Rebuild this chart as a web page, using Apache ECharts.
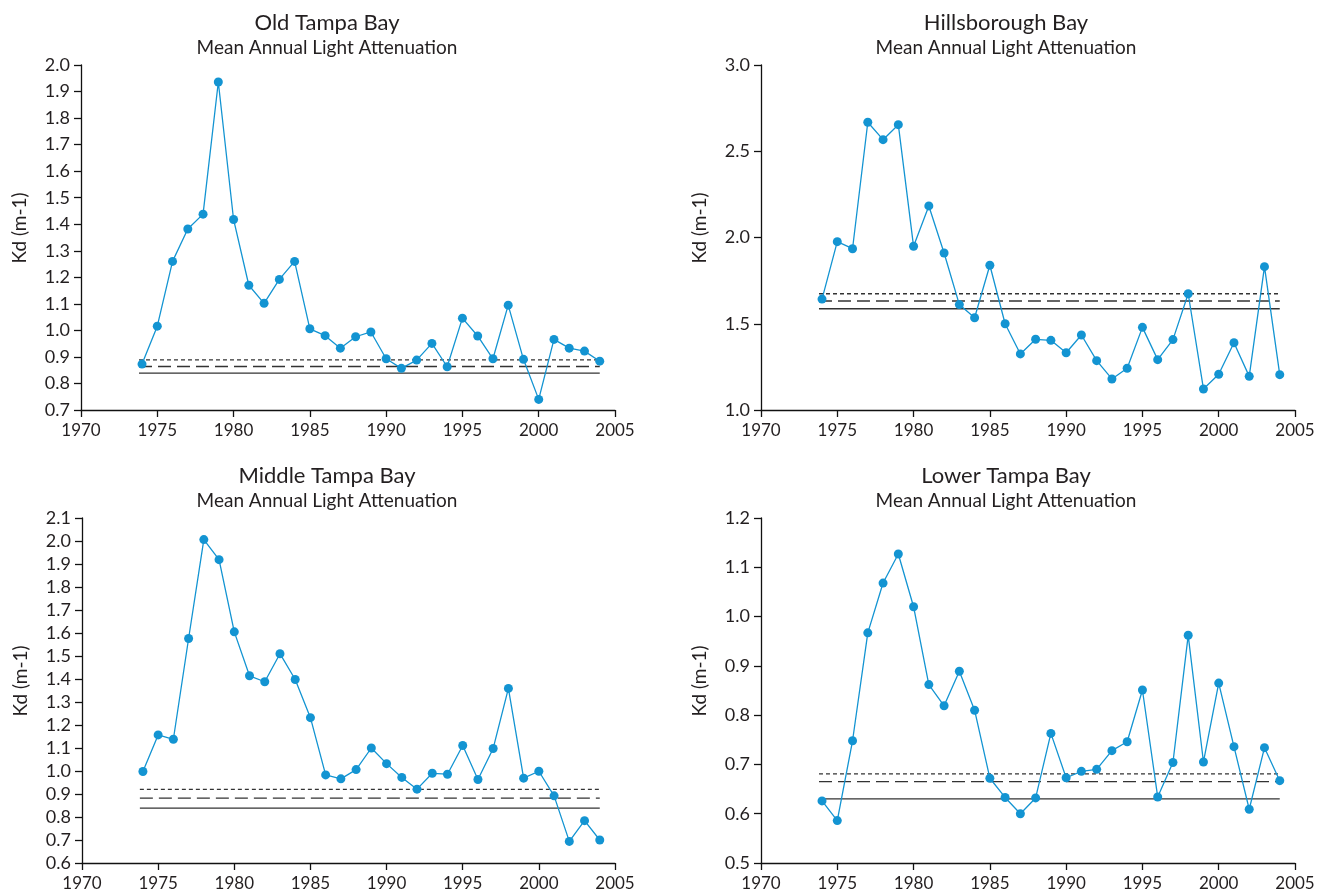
<!DOCTYPE html>
<html>
<head>
<meta charset="utf-8">
<script src="https://cdn.jsdelivr.net/npm/echarts@6/dist/echarts.min.js"></script>
<style>
html,body{margin:0;padding:0;background:#fff;}
#chart{width:1318px;height:894px;}
</style>
</head>
<body>
<div id="chart"></div>
<script>
// ---- data ----
const years = [1974,1975,1976,1977,1978,1979,1980,1981,1982,1983,1984,1985,1986,1987,1988,1989,1990,1991,1992,1993,1994,1995,1996,1997,1998,1999,2000,2001,2002,2003,2004];

const oldTampa = [0.873,1.016,1.260,1.382,1.438,1.936,1.418,1.170,1.102,1.192,1.260,1.006,0.980,0.933,0.976,0.994,0.893,0.857,0.888,0.951,0.863,1.046,0.979,0.893,1.095,0.891,0.740,0.966,0.933,0.922,0.884];
const hillsborough = [1.643,1.976,1.935,2.668,2.567,2.654,1.949,2.183,1.910,1.611,1.535,1.839,1.500,1.325,1.410,1.404,1.332,1.435,1.286,1.180,1.242,1.479,1.292,1.408,1.674,1.122,1.207,1.390,1.195,1.831,1.205];
const middleTampa = [0.998,1.157,1.138,1.576,2.006,1.919,1.605,1.414,1.388,1.510,1.398,1.232,0.983,0.966,1.006,1.100,1.032,0.972,0.921,0.990,0.986,1.111,0.963,1.098,1.359,0.969,0.999,0.892,0.694,0.784,0.700];
const lowerTampa = [0.626,0.586,0.748,0.967,1.068,1.127,1.020,0.862,0.819,0.889,0.810,0.672,0.633,0.600,0.632,0.763,0.673,0.686,0.690,0.728,0.746,0.851,0.634,0.704,0.962,0.705,0.865,0.736,0.609,0.734,0.667];

// reference levels: [short dash, long dash, solid]
const refOld = [0.889, 0.864, 0.839];
const refHills = [1.674, 1.632, 1.587];
const refMiddle = [0.920, 0.882, 0.839];
const refLower = [0.681, 0.665, 0.630];
const refSpan = [1973.8, 2004];

const titles = ["Old Tampa Bay", "Hillsborough Bay", "Middle Tampa Bay", "Lower Tampa Bay"];
const subtitle = "Mean Annual Light Attenuation";
const yName = "Kd (m-1)";

const xRange = [1970, 2005, 5];
const yRanges = [[0.7, 2.0, 0.1], [1.0, 3.0, 0.5], [0.6, 2.1, 0.1], [0.5, 1.2, 0.1]];

// ---- layout / style ----
const panels = [
  {vals: oldTampa, refs: refOld, grid: {left: 81, top: 65, width: 534, height: 345}, cx: 327, ty: 0},
  {vals: hillsborough, refs: refHills, grid: {left: 761, top: 65, width: 534, height: 345}, cx: 1006, ty: 0},
  {vals: middleTampa, refs: refMiddle, grid: {left: 82, top: 518, width: 533, height: 345}, cx: 327, ty: 453},
  {vals: lowerTampa, refs: refLower, grid: {left: 761, top: 518, width: 534, height: 345}, cx: 1006, ty: 453}
];

const FONT = 'Lato, "Noto Sans", sans-serif';
const TXT = '#231f20';
const BLUE = '#1394d2';
const REF = '#333333';
const dashTypes = [[4, 3], [13, 6], 'solid'];

const grids = [], xAxes = [], yAxes = [], series = [], graphics = [];

panels.forEach((p, i) => {
  grids.push(Object.assign({containLabel: false}, p.grid));
  xAxes.push({
    type: 'value', gridIndex: i, min: xRange[0], max: xRange[1], interval: xRange[2],
    axisLine: {show: true, onZero: false, lineStyle: {color: '#111', width: 1.3}},
    axisTick: {show: true, inside: false, length: 7, lineStyle: {color: '#111', width: 1.3}},
    axisLabel: {color: TXT, fontFamily: FONT, fontSize: 17, margin: 12, formatter: v => String(v)},
    splitLine: {show: false}
  });
  const yr = yRanges[i];
  yAxes.push({
    type: 'value', gridIndex: i, min: yr[0], max: yr[1], interval: yr[2],
    axisLine: {show: true, onZero: false, lineStyle: {color: '#111', width: 1.3}},
    axisTick: {show: true, inside: false, length: 7, lineStyle: {color: '#111', width: 1.3}},
    axisLabel: {color: TXT, fontFamily: FONT, fontSize: 18, margin: 11, formatter: v => v.toFixed(1)},
    splitLine: {show: false}
  });
  p.refs.forEach((v, k) => {
    series.push({
      type: 'line', xAxisIndex: i, yAxisIndex: i, symbol: 'none', silent: true, z: 2,
      data: [[refSpan[0], v], [refSpan[1], v]],
      lineStyle: {color: REF, width: 1.3, type: dashTypes[k]}
    });
  });
  series.push({
    type: 'line', xAxisIndex: i, yAxisIndex: i, z: 5,
    data: years.map((y, k) => [y, p.vals[k]]),
    symbol: 'circle', symbolSize: 9, showSymbol: true,
    lineStyle: {color: BLUE, width: 1.3},
    itemStyle: {color: BLUE}
  });
  graphics.push({
    type: 'text', x: p.cx, y: 12 + p.ty,
    style: {text: titles[i], font: '22px ' + FONT, fill: TXT, textAlign: 'center', textVerticalAlign: 'top'}
  });
  graphics.push({
    type: 'text', x: p.cx, y: 38 + p.ty,
    style: {text: subtitle, font: '19px ' + FONT, fill: TXT, textAlign: 'center', textVerticalAlign: 'top'}
  });
  graphics.push({
    type: 'text', x: p.grid.left - 61, y: 228 + p.ty, rotation: Math.PI / 2,
    style: {text: yName, font: '19px ' + FONT, fill: TXT, textAlign: 'center', textVerticalAlign: 'middle'}
  });
});

const chart = echarts.init(document.getElementById('chart'), null, {renderer: 'canvas'});
chart.setOption({
  backgroundColor: '#ffffff',
  animation: false,
  grid: grids, xAxis: xAxes, yAxis: yAxes, series: series,
  graphic: graphics
});
</script>
</body>
</html>
